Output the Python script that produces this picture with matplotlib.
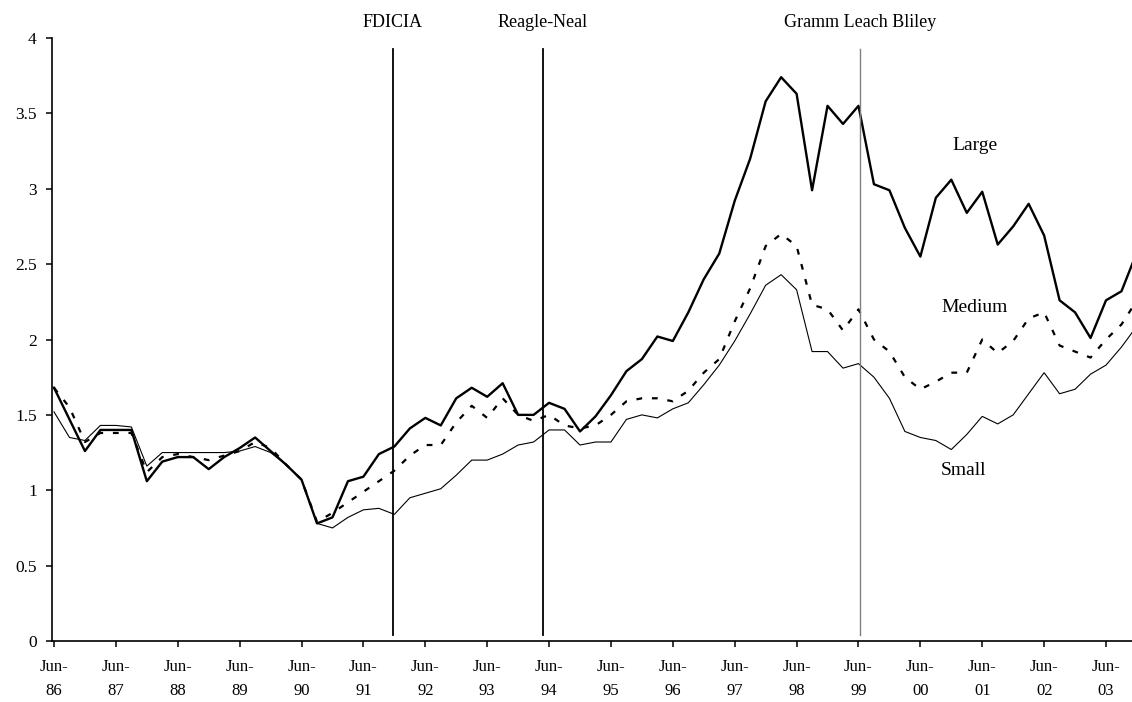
import matplotlib
matplotlib.use("Agg")
import matplotlib.pyplot as plt
import numpy as np

# Quarterly observations, Jun-86 (index 0) through Dec-03 (index 70)
large = [1.68, 1.47, 1.26, 1.40, 1.40, 1.40, 1.06, 1.19, 1.22, 1.22,
         1.14, 1.22, 1.28, 1.35, 1.26, 1.17, 1.07, 0.78, 0.82, 1.06,
         1.09, 1.24, 1.29, 1.41, 1.48, 1.43, 1.61, 1.68, 1.62, 1.71,
         1.50, 1.50, 1.58, 1.54, 1.39, 1.49, 1.63, 1.79, 1.87, 2.02,
         1.99, 2.18, 2.40, 2.57, 2.92, 3.20, 3.58, 3.74, 3.63, 2.99,
         3.55, 3.43, 3.55, 3.03, 2.99, 2.74, 2.55, 2.94, 3.06, 2.84,
         2.98, 2.63, 2.75, 2.90, 2.69, 2.26, 2.18, 2.01, 2.26, 2.32,
         2.58]
medium = [1.68, 1.55, 1.32, 1.38, 1.38, 1.38, 1.12, 1.22, 1.24, 1.22,
          1.20, 1.23, 1.26, 1.32, 1.28, 1.17, 1.07, 0.79, 0.85, 0.92,
          0.99, 1.06, 1.13, 1.23, 1.30, 1.30, 1.45, 1.56, 1.48, 1.61,
          1.50, 1.46, 1.50, 1.43, 1.41, 1.43, 1.50, 1.59, 1.61, 1.61,
          1.59, 1.66, 1.78, 1.87, 2.12, 2.34, 2.62, 2.70, 2.62, 2.23,
          2.20, 2.06, 2.20, 2.00, 1.92, 1.75, 1.67, 1.72, 1.78, 1.78,
          2.00, 1.91, 1.99, 2.14, 2.18, 1.96, 1.92, 1.88, 2.00, 2.10,
          2.26]
small = [1.52, 1.35, 1.33, 1.43, 1.43, 1.42, 1.16, 1.25, 1.25, 1.25,
         1.25, 1.25, 1.26, 1.29, 1.25, 1.17, 1.07, 0.78, 0.75, 0.82,
         0.87, 0.88, 0.84, 0.95, 0.98, 1.01, 1.10, 1.20, 1.20, 1.24,
         1.30, 1.32, 1.40, 1.40, 1.30, 1.32, 1.32, 1.47, 1.50, 1.48,
         1.54, 1.58, 1.70, 1.83, 1.99, 2.17, 2.36, 2.43, 2.33, 1.92,
         1.92, 1.81, 1.84, 1.75, 1.61, 1.39, 1.35, 1.33, 1.27, 1.37,
         1.49, 1.44, 1.50, 1.64, 1.78, 1.64, 1.67, 1.77, 1.83, 1.95,
         2.09]

tick_labels = ["Jun-\n86", "Jun-\n87", "Jun-\n88", "Jun-\n89", "Jun-\n90",
               "Jun-\n91", "Jun-\n92", "Jun-\n93", "Jun-\n94", "Jun-\n95",
               "Jun-\n96", "Jun-\n97", "Jun-\n98", "Jun-\n99", "Jun-\n00",
               "Jun-\n01", "Jun-\n02", "Jun-\n03"]

events = ["FDICIA", "Reagle-Neal", "Gramm Leach Bliley"]
event_pos = [21.9, 31.6, 52.1]
event_colors = ["black", "black", "#808080"]
event_lw = [1.3, 1.3, 1.0]

series_names = ["Large", "Medium", "Small"]
label_pos = [(59.5, 3.29), (59.5, 2.21), (58.8, 1.13)]

plt.rcParams['font.family'] = ['Liberation Serif', 'DejaVu Serif']

fig = plt.figure(figsize=(11.32, 7.02), dpi=100)
ax = fig.add_axes([52 / 1132, 61 / 702, 1 - 52 / 1132, (641 - 38) / 702])

t = np.arange(len(large))
ax.plot(t, small, color="black", lw=0.8, solid_joinstyle="miter")
ax.plot(t, medium, color="black", lw=1.6, linestyle=(0, (2.6, 4.4)))
ax.plot(t, large, color="black", lw=1.7)

for name, xp, c, lw in zip(events, event_pos, event_colors, event_lw):
    ax.plot([xp, xp], [0.04, 3.93], color=c, lw=lw)
    ax.text(xp, 4.106, name, ha="center", va="center", fontsize=13,
            clip_on=False)

for name, (xp, yp) in zip(series_names, label_pos):
    ax.text(xp, yp, name, ha="center", va="center", fontsize=14)

ax.set_xlim(-0.13, 69.68)
ax.set_ylim(0, 4)
ax.set_xticks(np.arange(0, 69, 4))
ax.set_xticklabels(tick_labels, fontsize=12, linespacing=1.7)
ax.set_yticks(np.arange(0, 4.01, 0.5))
ax.set_yticklabels(["0", "0.5", "1", "1.5", "2", "2.5", "3", "3.5", "4"],
                   fontsize=12.5)
for s in ["top", "right"]:
    ax.spines[s].set_visible(False)
for s in ["left", "bottom"]:
    ax.spines[s].set_linewidth(1.2)
ax.tick_params(axis="both", direction="out", length=4, width=1.1)
ax.tick_params(axis="y", pad=7)
ax.tick_params(axis="x", pad=9)

fig.savefig("out.png", dpi=100)
